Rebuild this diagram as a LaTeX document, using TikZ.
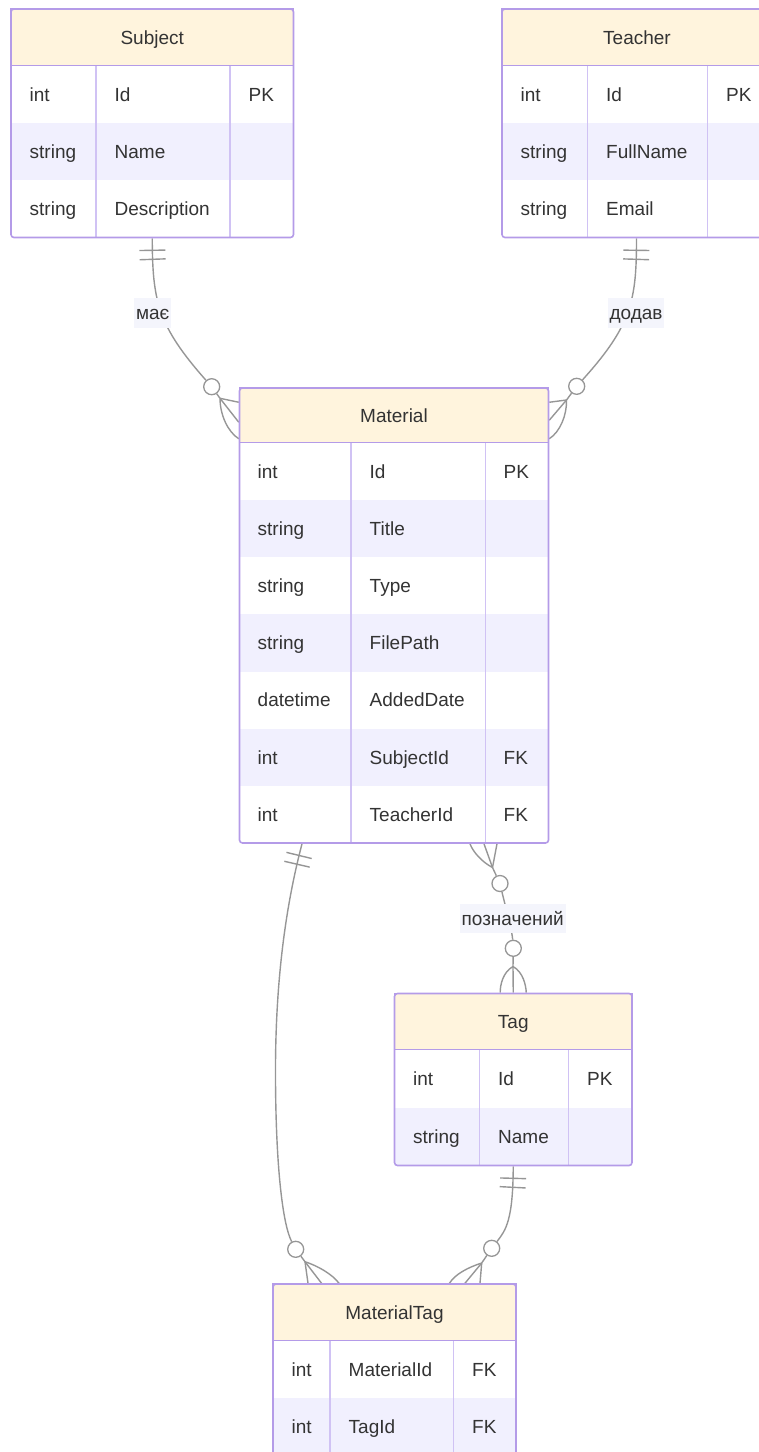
\documentclass[tikz,border=0pt]{standalone}
\usepackage{fontspec}
\setmainfont{Liberation Sans}
\usetikzlibrary{decorations.markings}
\pgfdeclarelayer{bg}
\pgfsetlayers{bg,main}
\definecolor{erline}{RGB}{180,155,232}
\definecolor{erdiv}{RGB}{208,194,244}
\definecolor{erhead}{RGB}{255,244,221}
\definecolor{errow}{RGB}{241,240,254}
\definecolor{ertext}{RGB}{51,51,51}
\definecolor{relgray}{RGB}{150,150,150}
\definecolor{labelbg}{RGB}{244,245,252}
\tikzset{
    every node/.style={inner sep=0pt, text=ertext, font=\fontsize{19}{23}\selectfont}
}
\tikzset{
    tblhead/.style={rectangle, draw=erline, line width=1.5pt, fill=erhead, minimum height=57pt, text height=13.5pt, text depth=0pt},
    tblrow/.style={rectangle, minimum height=57pt},
    tblcell/.style={anchor=west, text height=13.5pt, text depth=0pt},
    tblframe/.style={rectangle, draw=erline, line width=1.6pt, rounded corners=3pt},
    coldiv/.style={draw=erdiv, line width=1.3pt},
    relline/.style={draw=relgray, line width=1.4pt},
    relring/.style={circle, draw=relgray, fill=white, line width=1.3pt, minimum size=16pt},
    rellabel/.style={fill=labelbg, inner xsep=2pt, inner ysep=8pt, text height=13.5pt, text depth=0pt},
    reltick/.style={postaction=decorate, decoration={markings,
        mark=at position 12pt with {\draw [relline] (0,-13pt) -- (0,13pt);},
        mark=at position 21pt with {\draw [relline] (0,-13pt) -- (0,13pt);}}}
}
\begin{document}
\begin{tikzpicture}[x=1pt, y=-1pt]
\useasboundingbox (0,0) rectangle (759,1452);
\clip (0,0) rectangle (759,1452);
% Subject
\node (subject-h) [tblhead, minimum width=282.5pt] at (152.25,37.5) {Subject};
\foreach \ty/\nm/\ky [count=\i] in {int/Id/PK, string/Name/, string/Description/}{
    \ifodd\i \def\rowc{white}\else\def\rowc{errow}\fi
    \node (subject-\i) [tblrow, fill=\rowc, minimum width=282.5pt] at (152.25,{66+(\i-.5)*57}) {};
    \node (subject-\i-a) [tblcell] at (29.5,{66+(\i-.5)*57}) {\ty};
    \node (subject-\i-b) [tblcell] at (114.5,{66+(\i-.5)*57}) {\nm};
    \node (subject-\i-c) [tblcell] at (248.5,{66+(\i-.5)*57}) {\ky};
}
\draw [coldiv] (96,66) -- (96,237.5) (230,66) -- (230,237.5);
\node (subject) [tblframe, minimum width=282.5pt, minimum height=228.5pt] at (152.25,123.25) {};
% Teacher
\node (teacher-h) [tblhead, minimum width=270pt] at (637,37.5) {Teacher};
\foreach \ty/\nm/\ky [count=\i] in {int/Id/PK, string/FullName/, string/Email/}{
    \ifodd\i \def\rowc{white}\else\def\rowc{errow}\fi
    \node (teacher-\i) [tblrow, fill=\rowc, minimum width=270pt] at (637,{66+(\i-.5)*57}) {};
    \node (teacher-\i-a) [tblcell] at (520.5,{66+(\i-.5)*57}) {\ty};
    \node (teacher-\i-b) [tblcell] at (606,{66+(\i-.5)*57}) {\nm};
    \node (teacher-\i-c) [tblcell] at (726,{66+(\i-.5)*57}) {\ky};
}
\draw [coldiv] (587.5,66) -- (587.5,237.5) (707.5,66) -- (707.5,237.5);
\node (teacher) [tblframe, minimum width=270pt, minimum height=228.5pt] at (637,123.25) {};
% Material
\node (material-h) [tblhead, minimum width=309pt, minimum height=55pt] at (394,415.5) {Material};
\foreach \ty/\nm/\ky [count=\i] in {int/Id/PK, string/Title/, string/Type/, string/FilePath/,
        datetime/AddedDate/, int/SubjectId/FK, int/TeacherId/FK}{
    \ifodd\i \def\rowc{white}\else\def\rowc{errow}\fi
    \node (material-\i) [tblrow, fill=\rowc, minimum width=309pt, minimum height=57.14pt] at (394,{443+(\i-.5)*57.14}) {};
    \node (material-\i-a) [tblcell] at (257.5,{443+(\i-.5)*57.14}) {\ty};
    \node (material-\i-b) [tblcell] at (369.5,{443+(\i-.5)*57.14}) {\nm};
    \node (material-\i-c) [tblcell] at (503.5,{443+(\i-.5)*57.14}) {\ky};
}
\draw [coldiv] (351,443) -- (351,843) (485.5,443) -- (485.5,843);
\node (material) [tblframe, minimum width=309pt, minimum height=455pt] at (394,615.5) {};
% Tag
\node (tag-h) [tblhead, minimum width=237.5pt, minimum height=56.5pt] at (513.25,1021.75) {Tag};
\foreach \ty/\nm/\ky [count=\i] in {int/Id/PK, string/Name/}{
    \ifodd\i \def\rowc{white}\else\def\rowc{errow}\fi
    \node (tag-\i) [tblrow, fill=\rowc, minimum width=237.5pt, minimum height=57.75pt] at (513.25,{1050+(\i-.5)*57.75}) {};
    \node (tag-\i-a) [tblcell] at (413,{1050+(\i-.5)*57.75}) {\ty};
    \node (tag-\i-b) [tblcell] at (498,{1050+(\i-.5)*57.75}) {\nm};
    \node (tag-\i-c) [tblcell] at (587,{1050+(\i-.5)*57.75}) {\ky};
}
\draw [coldiv] (479.5,1050) -- (479.5,1165.5) (568.5,1050) -- (568.5,1165.5);
\node (tag) [tblframe, minimum width=237.5pt, minimum height=172pt] at (513.25,1079.5) {};
% MaterialTag
\node (materialtag-h) [tblhead, minimum width=243pt] at (394.5,1312.5) {MaterialTag};
\foreach \ty/\nm/\ky [count=\i] in {int/MaterialId/FK, int/TagId/FK}{
    \ifodd\i \def\rowc{white}\else\def\rowc{errow}\fi
    \node (materialtag-\i) [tblrow, fill=\rowc, minimum width=243pt] at (394.5,{1341+(\i-.5)*57}) {};
    \node (materialtag-\i-a) [tblcell] at (291.5,{1341+(\i-.5)*57}) {\ty};
    \node (materialtag-\i-b) [tblcell] at (348.5,{1341+(\i-.5)*57}) {\nm};
    \node (materialtag-\i-c) [tblcell] at (472,{1341+(\i-.5)*57}) {\ky};
}
\draw [coldiv] (330,1341) -- (330,1455) (453.5,1341) -- (453.5,1455);
\node (materialtag) [tblframe, minimum width=243pt, minimum height=171pt] at (394.5,1369.5) {};
% relations
\node (l-has) [rellabel] at (152.7,313) {має};
\node (l-added) [rellabel] at (636,313) {додав};
\node (l-tagged) [rellabel] at (512.7,918.3) {позначений};
\node (r-has) [relring] at (211.7,386.7) {};
\node (r-added) [relring] at (576.7,386.3) {};
\node (r-mat) [relring] at (500,883.5) {};
\node (r-tag) [relring] at (513.3,948.3) {};
\node (r-mt1) [relring] at (295.7,1249.3) {};
\node (r-mt2) [relring] at (491.7,1248.3) {};
\coordinate (f-has) at (220,398.3);
\coordinate (f-added) at (566.5,400);
\coordinate (f-mat) at (492.5,867.5);
\coordinate (f-tag) at (513,966.5);
\coordinate (f-mt1) at (305,1261.7);
\coordinate (f-mt2) at (481.7,1263);
\begin{pgfonlayer}{bg}
    \draw [relline, reltick] (subject.south) .. controls (152.5,300) and (157,325) .. (r-has);
    \draw [relline] (r-has) -- (f-has);
    \draw [relline] (f-has) -- ([yshift=-15pt]material-h.north west);
    \draw [relline] (f-has) -- ([yshift=-35pt]material-h.north west);
    \draw [relline] (f-has) .. controls (220,415) and (228,432) .. ([yshift=5pt]material-h.south west);
    \draw [relline, reltick] ([xshift=-0.5pt]teacher.south) .. controls (636.5,300) and (632,325) .. (r-added);
    \draw [relline] (r-added) -- (f-added);
    \draw [relline] (f-added) -- ([yshift=-15pt]material-h.north east);
    \draw [relline] (f-added) -- ([yshift=-33pt]material-h.north east);
    \draw [relline] (f-added) .. controls (567,415) and (560,432) .. ([yshift=5pt]material-h.south east);
    \draw [relline] (f-mat) -- ([xshift=103pt]material.south);
    \draw [relline] (f-mat) -- ([xshift=90pt]material.south);
    \draw [relline] (f-mat) .. controls (482,862) and (473,852) .. ([xshift=76pt]material.south);
    \draw [relline] (f-mat) -- (r-mat);
    \draw [relline] (r-mat) .. controls (505,905) and (512,930) .. (r-tag);
    \draw [relline] (r-tag) -- (f-tag);
    \draw [relline] (f-tag) -- (tag.north);
    \draw [relline] (f-tag) .. controls (503,972) and (500,985) .. ([xshift=-13pt]tag.north);
    \draw [relline] (f-tag) .. controls (523,972) and (526,985) .. ([xshift=13pt]tag.north);
    \draw [relline, reltick] ([xshift=-92pt]material.south) .. controls (282,920) and (275,1000) .. (275.5,1080)
        .. controls (276,1170) and (283,1225) .. (r-mt1);
    \draw [relline] (r-mt1) -- (f-mt1);
    \draw [relline] (f-mt1) -- ([xshift=-86.5pt]materialtag.north);
    \draw [relline] (f-mt1) -- ([xshift=-73pt]materialtag.north);
    \draw [relline] (f-mt1) .. controls (318,1266) and (332,1274) .. ([xshift=-55.5pt]materialtag.north);
    \draw [relline, reltick] (tag.south) .. controls (513,1220) and (506,1230) .. (r-mt2);
    \draw [relline] (r-mt2) -- (f-mt2);
    \draw [relline] (f-mt2) -- ([xshift=85.5pt]materialtag.north);
    \draw [relline] (f-mt2) -- ([xshift=70.5pt]materialtag.north);
    \draw [relline] (f-mt2) .. controls (469,1267) and (455,1274) .. ([xshift=55pt]materialtag.north);
\end{pgfonlayer}
\end{tikzpicture}
\end{document}
